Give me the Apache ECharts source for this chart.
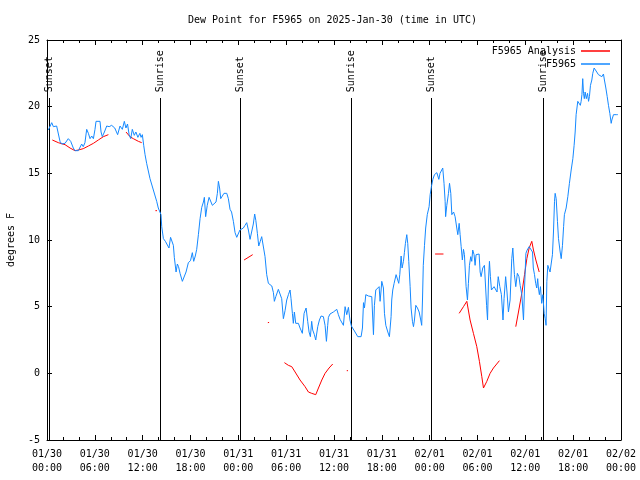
<!DOCTYPE html>
<html><head><meta charset="utf-8">
<script src="https://cdn.jsdelivr.net/npm/echarts@6/dist/echarts.min.js"></script>
<style>html,body{margin:0;padding:0;background:#fff}#c{width:640px;height:480px}</style>
</head><body><div id="c"></div>
<script>
// Tick labels for the x axis (hours since 01/30 00:00 UTC, every 6 h)
const xTickLabels = ['01/30\n00:00','01/30\n06:00','01/30\n12:00','01/30\n18:00','01/31\n00:00','01/31\n06:00','01/31\n12:00','01/31\n18:00','02/01\n00:00','02/01\n06:00','02/01\n12:00','02/01\n18:00','02/02\n00:00'];

// Sunrise / sunset events (hours)
const sunHours = [0.25, 14.18, 24.25, 38.18, 48.22, 62.27];
const sunNames = ['Sunset','Sunrise','Sunset','Sunrise','Sunset','Sunrise'];

// Observed dew point F5965 (hours, degrees F)
const obsHours = [0.17,0.59,0.8,1.21,1.42,1.63,1.84,2.26,2.67,2.97,3.3,3.51,3.93,4.35,4.55,4.76,4.98,5.19,5.4,5.61,5.82,6.02,6.15,6.65,6.78,6.94,7.2,7.49,7.8,8.11,8.5,8.86,9.16,9.45,9.7,9.9,10.1,10.3,10.5,10.7,10.95,11.15,11.4,11.65,11.8,11.96,12.13,12.3,12.5,12.92,13.34,13.76,13.96,14.18,14.3,14.39,14.6,14.85,15.1,15.3,15.5,15.75,15.85,15.97,16.19,16.35,16.5,16.69,16.98,17.2,17.44,17.73,18.0,18.23,18.4,18.6,18.78,18.99,19.2,19.41,19.62,19.74,19.9,20.1,20.33,20.55,20.74,20.98,21.2,21.37,21.5,21.65,21.79,21.95,22.2,22.55,22.75,22.96,23.15,23.38,23.59,23.8,24.0,24.2,24.4,24.63,24.84,25.05,25.26,25.47,25.67,25.88,26.05,26.2,26.39,26.56,26.75,26.93,27.15,27.35,27.56,27.77,28.0,28.2,28.4,28.52,28.7,29.02,29.23,29.44,29.65,29.86,30.07,30.28,30.49,30.61,30.78,30.9,31.03,31.2,31.53,31.74,32.03,32.25,32.5,32.7,32.87,33.04,33.2,33.33,33.54,33.71,33.96,34.17,34.38,34.67,34.88,35.05,35.21,35.3,35.5,35.92,36.35,36.55,36.76,36.97,37.18,37.39,37.6,37.81,38.0,38.18,38.43,38.64,38.98,39.4,39.57,39.7,39.82,39.99,40.32,40.74,40.95,41.07,41.24,41.45,41.66,41.78,41.91,41.99,42.2,42.33,42.5,42.75,42.95,43.16,43.24,43.37,43.54,43.79,43.95,44.12,44.25,44.42,44.54,44.71,44.83,44.96,45.13,45.25,45.38,45.55,45.67,45.84,45.97,46.09,46.26,46.47,46.68,46.88,47.0,47.1,47.2,47.35,47.5,47.7,47.93,48.06,48.22,48.4,48.6,48.9,49.15,49.3,49.5,49.64,49.8,49.94,50.0,50.15,50.36,50.49,50.65,50.78,51.0,51.19,51.4,51.53,51.7,51.82,51.95,52.1,52.24,52.36,52.57,52.74,52.86,52.99,53.15,53.28,53.4,53.57,53.7,53.82,53.99,54.2,54.33,54.45,54.66,54.87,55.0,55.14,55.26,55.38,55.5,55.62,55.75,55.87,56.08,56.3,56.45,56.6,56.8,57.0,57.2,57.33,57.53,57.7,57.88,58.09,58.3,58.43,58.63,58.8,59.0,59.2,59.35,59.56,59.77,59.9,60.07,60.23,60.48,60.73,60.9,61.0,61.15,61.3,61.43,61.55,61.64,61.76,61.9,62.05,62.2,62.36,62.49,62.6,62.7,62.82,62.95,63.1,63.24,63.4,63.53,63.66,63.74,63.87,64.03,64.16,64.37,64.5,64.66,64.8,64.9,65.12,65.33,65.53,65.75,65.96,66.12,66.25,66.37,66.58,66.75,66.9,67.0,67.1,67.2,67.3,67.4,67.5,67.65,67.8,67.93,68.04,68.17,68.34,68.46,68.63,68.84,68.96,69.17,69.38,69.6,69.8,69.92,70.1,70.27,70.43,70.6,70.77,70.85,71.06,71.47,71.6];
const obsValues = [18.25,18.8,18.5,18.55,18.5,17.4,17.2,17.25,17.6,17.4,16.9,16.7,16.7,17.2,17.0,17.3,18.3,18.0,17.6,17.8,17.6,18.3,18.9,18.9,18.1,17.75,18.1,18.55,18.5,18.6,18.4,17.9,18.55,18.3,18.9,18.4,18.7,17.9,17.6,18.3,17.85,18.1,17.7,18.0,17.7,17.9,17.1,16.4,15.75,14.6,13.75,12.9,12.4,12.25,11.9,11.0,10.1,9.9,9.8,9.4,10.2,10.2,9.6,8.7,7.6,8.2,8.0,7.5,6.9,6.9,7.6,8.3,8.45,9.05,8.4,8.8,9.3,10.4,11.6,12.45,12.85,13.2,11.75,12.6,13.2,13.2,12.6,12.7,12.85,13.5,14.4,13.9,13.1,13.2,13.5,13.5,13.1,12.3,12.1,11.4,10.55,10.2,10.35,10.75,10.75,10.9,11.1,11.3,10.75,10.05,10.2,11.2,11.95,11.45,10.5,9.55,9.9,10.25,10.1,8.75,7.4,6.75,6.6,6.55,6.05,5.4,5.75,6.3,5.95,5.6,4.1,4.7,5.5,5.9,6.25,5.6,4.5,3.75,4.6,3.75,3.75,3.4,3.0,4.5,4.9,3.9,3.1,2.75,3.9,3.25,2.9,2.5,3.5,4.0,4.3,4.25,3.6,2.4,3.6,4.2,4.45,4.6,4.8,4.4,4.05,3.9,3.6,5.0,4.4,4.95,4.0,3.55,3.4,3.1,2.75,2.75,3.4,5.3,4.9,5.9,5.8,5.75,2.9,5.1,6.25,6.3,6.5,5.4,6.25,6.9,6.4,4.5,3.6,3.1,2.75,4.25,5.5,6.25,6.75,7.4,7.5,6.75,7.4,8.8,7.9,8.4,9.05,9.75,10.4,9.75,8.4,6.5,4.9,3.9,3.5,4.0,5.1,4.9,4.6,4.0,3.6,5.5,8.1,9.6,10.9,11.9,12.5,13.4,14.0,14.55,14.9,15.05,14.55,15.0,15.1,15.4,14.25,12.9,11.75,12.6,13.5,14.25,13.5,11.9,12.1,11.75,10.9,10.4,11.25,10.4,9.5,8.5,9.3,8.9,6.5,5.5,6.75,8.1,8.75,8.4,9.25,8.9,8.1,8.9,9.0,8.95,7.6,7.25,7.9,8.1,8.0,5.1,4.0,7.0,8.4,7.25,6.25,6.4,6.5,6.6,6.1,7.25,6.5,5.9,4.0,5.6,7.25,6.1,4.6,5.5,8.6,9.4,7.4,6.5,7.5,7.25,6.6,5.9,4.0,6.4,9.0,9.25,9.5,9.6,9.1,7.9,7.4,6.75,6.4,7.1,6.4,5.9,6.5,5.25,5.9,4.5,4.1,3.6,6.9,8.1,8.0,7.6,7.5,8.9,10.6,12.9,13.5,13.1,11.4,10.1,9.1,8.6,9.6,11.0,11.9,12.4,13.25,14.25,15.25,16.1,17.1,18.1,19.4,20.4,20.5,20.1,20.4,20.9,22.1,21.0,20.6,21.1,20.6,21.0,20.4,20.75,21.6,22.0,22.5,22.9,22.85,22.6,22.4,22.25,22.25,22.45,22.0,21.4,20.75,20.1,19.5,18.75,19.0,19.4,19.4,19.4];

// F5965 Analysis (hours, degrees F); null = no analysis (gap)
const anaHours = [0.67,1.42,2.26,2.89,3.51,3.93,4.55,5.19,5.82,6.44,7.07,7.7,8.8,9.91,10.41,10.83,11.46,11.88,12.8,13.6,13.8,20.0,24.72,25.8,26.8,27.7,27.86,28.8,29.78,30.28,30.7,31.12,31.74,32.37,32.79,33.2,33.71,34.05,34.47,34.88,35.38,35.84,36.8,37.6,37.76,43.0,48.68,49.73,50.7,51.7,52.24,52.66,53.07,53.49,53.91,54.24,54.54,54.75,55.17,55.58,56.0,56.75,57.8,58.8,59.14,59.56,59.9,60.19,60.48,60.81,61.02,61.32,61.74];
const anaValues = [17.5,17.3,17.15,16.9,16.7,16.75,16.85,17.05,17.25,17.5,17.75,17.9,null,18.1,17.75,17.6,17.4,17.3,null,12.2,12.2,null,8.5,8.9,null,3.8,3.82,null,0.8,0.6,0.5,0.1,-0.5,-1.0,-1.4,-1.5,-1.6,-1.1,-0.5,0.0,0.4,0.7,null,0.2,0.2,null,8.95,8.95,null,4.5,5.0,5.4,4.0,3.0,2.0,0.9,-0.25,-1.1,-0.6,0.0,0.4,0.95,null,3.5,4.6,6.0,7.4,8.6,9.4,9.9,9.25,8.5,7.6];

const FONT = "'DejaVu Sans Mono', monospace";
const chart = echarts.init(document.getElementById('c'), null, {renderer: 'canvas'});

const xBase = {
  type: 'value', min: 0, max: 72, interval: 6,
  axisLine: {show: true, onZero: false, lineStyle: {color: '#000', width: 1}},
  axisTick: {show: true, inside: true, length: 5, lineStyle: {color: '#000'}},
  minorTick: {show: true, splitNumber: 3, length: 3, lineStyle: {color: '#000'}},
  splitLine: {show: false}
};
const yBase = {
  type: 'value', min: -5, max: 25, interval: 5,
  axisLine: {show: true, onZero: false, lineStyle: {color: '#000', width: 1}},
  axisTick: {show: true, inside: true, length: 5, lineStyle: {color: '#000'}},
  splitLine: {show: false}
};

chart.setOption({
  animation: false,
  backgroundColor: '#fff',
  title: {
    text: 'Dew Point for F5965 on 2025-Jan-30 (time in UTC)',
    left: 188, top: 15, padding: 0,
    textStyle: {fontFamily: FONT, fontSize: 10, fontWeight: 'normal', color: '#000'}
  },
  legend: {
    data: ['F5965 Analysis', 'F5965'],
    orient: 'vertical', align: 'right',
    right: 30, top: 46, padding: 0,
    icon: 'rect', itemWidth: 29, itemHeight: 1.5, itemGap: 3,
    textStyle: {fontFamily: FONT, fontSize: 10, color: '#000'}
  },
  grid: {left: 47, right: 19, top: 40, bottom: 40, containLabel: false, outerBoundsMode: 'none'},
  xAxis: [
    Object.assign({}, xBase, {
      position: 'bottom',
      axisLabel: {
        show: true, margin: 7, lineHeight: 14, color: '#000', fontFamily: FONT, fontSize: 10,
        formatter: v => xTickLabels[Math.round(v / 6)]
      }
    }),
    Object.assign({}, xBase, {position: 'top', axisLabel: {show: false}})
  ],
  yAxis: [
    Object.assign({}, yBase, {
      position: 'left',
      name: 'degrees F', nameLocation: 'middle', nameRotate: 90, nameGap: 31,
      nameTextStyle: {fontFamily: FONT, fontSize: 10, color: '#000'},
      axisLabel: {show: true, margin: 7, color: '#000', fontFamily: FONT, fontSize: 10}
    }),
    Object.assign({}, yBase, {position: 'right', axisLabel: {show: false}})
  ],
  series: [
    {
      type: 'custom', name: 'sun', silent: true,
      data: sunHours.map((h, i) => [h, sunNames[i]]),
      renderItem: function (params, api) {
        const h = api.value(0);
        const top = api.coord([h, 20.63]);
        const bot = api.coord([h, -5]);
        const px = Math.round(top[0]) + 0.5;
        const name = sunNames[params.dataIndex];
        return {
          type: 'group',
          children: [
            {type: 'line', shape: {x1: px, y1: Math.round(top[1]), x2: px, y2: bot[1]},
             style: {stroke: '#000', lineWidth: 1}},
            {type: 'text', x: px, y: top[1] - 6, rotation: Math.PI / 2,
             style: {text: name, x: 0, y: 0, align: 'left', verticalAlign: 'middle',
                     font: '10px ' + FONT, fill: '#000'}}
          ]
        };
      },
      z: 1
    },
    {
      name: 'F5965 Analysis', type: 'line', color: '#ff0000',
      data: anaHours.map((h, i) => [h, anaValues[i] === null ? '-' : anaValues[i]]),
      showSymbol: false, connectNulls: false,
      lineStyle: {width: 1, color: '#ff0000'}, z: 2
    },
    {
      name: 'F5965', type: 'line', color: '#1589ff',
      data: obsHours.map((h, i) => [h, obsValues[i]]),
      showSymbol: false,
      lineStyle: {width: 1, color: '#1589ff'}, z: 3
    }
  ]
});
</script></body></html>
